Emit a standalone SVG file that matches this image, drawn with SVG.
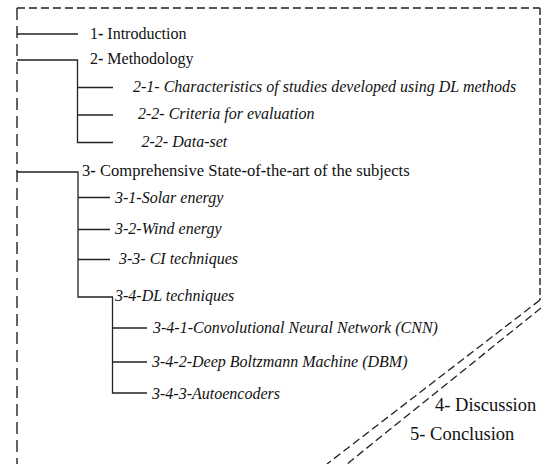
<svg xmlns="http://www.w3.org/2000/svg" width="541" height="464" viewBox="0 0 541 464">
<style>
.t{font-family:'Liberation Serif','Times New Roman',serif;font-size:16px;fill:#111}
.i{font-style:italic}
.big{font-size:18.5px}
.w{font-size:16.6px}
.b{font-weight:bold}
.ln{stroke:#222;stroke-width:1.3;fill:none}
.dh{stroke:#222;stroke-width:1.4;fill:none;stroke-dasharray:8 4}
.dv{stroke:#222;stroke-width:1.4;fill:none;stroke-dasharray:12 6}
.dr{stroke:#222;stroke-width:1.4;fill:none;stroke-dasharray:7 3}
.dd{stroke:#222;stroke-width:1.3;fill:none;stroke-dasharray:8 4}
</style>
<g id="frame">
<path class="dh" d="M17 8 H540"/>
<path class="dv" d="M17 8 V464"/>
<path class="dr" d="M540 8 V300"/>
<path class="dd" d="M540 300 L327 464"/>
<path class="dd" d="M541 308 L347 464"/>
</g>
<g id="connectors">
<path class="ln" d="M17 34 H78"/>
<path class="ln" d="M17 60 H77.5 V142.5 H113 M77.5 87.5 H113 M77.5 115 H113"/>
<path class="ln" d="M17 172 H78 V297 H113 M78 197.5 H110 M78 229.5 H110 M78 259.5 H110"/>
<path class="ln" d="M112.5 297 V393 H147 M112.5 328 H147 M112.5 362 H147"/>
</g>
<g id="n1"><text class="t" x="90" y="38.5">1<tspan class="b">-</tspan> Introduction</text></g>
<g id="n2"><text class="t" x="90" y="64">2<tspan class="b">-</tspan> Methodology</text></g>
<g id="n21"><text class="t i" x="133" y="92">2-1- Characteristics of studies developed using DL methods</text></g>
<g id="n22"><text class="t i" x="138" y="119">2-2- Criteria for evaluation</text></g>
<g id="n23"><text class="t i" x="141.5" y="146.5">2-2- Data-set</text></g>
<g id="n3"><text class="t w" x="82" y="176">3<tspan class="b">-</tspan> Comprehensive State<tspan class="b">-</tspan>of<tspan class="b">-</tspan>the<tspan class="b">-</tspan>art of the subjects</text></g>
<g id="n31"><text class="t i" x="115" y="203">3-1-Solar energy</text></g>
<g id="n32"><text class="t i" x="115" y="233.5">3-2-Wind energy</text></g>
<g id="n33"><text class="t i" x="119" y="263.5">3-3- CI techniques</text></g>
<g id="n34"><text class="t i" x="115" y="301">3-4-DL techniques</text></g>
<g id="n341"><text class="t i" x="153" y="333">3-4-1-Convolutional Neural Network (CNN)</text></g>
<g id="n342"><text class="t i" x="152" y="367">3-4-2-Deep Boltzmann Machine (DBM)</text></g>
<g id="n343"><text class="t i" x="152" y="399">3-4-3-Autoencoders</text></g>
<g id="n4"><text class="t big" x="435" y="411">4- Discussion</text></g>
<g id="n5"><text class="t big" x="410" y="440">5- Conclusion</text></g>
</svg>
